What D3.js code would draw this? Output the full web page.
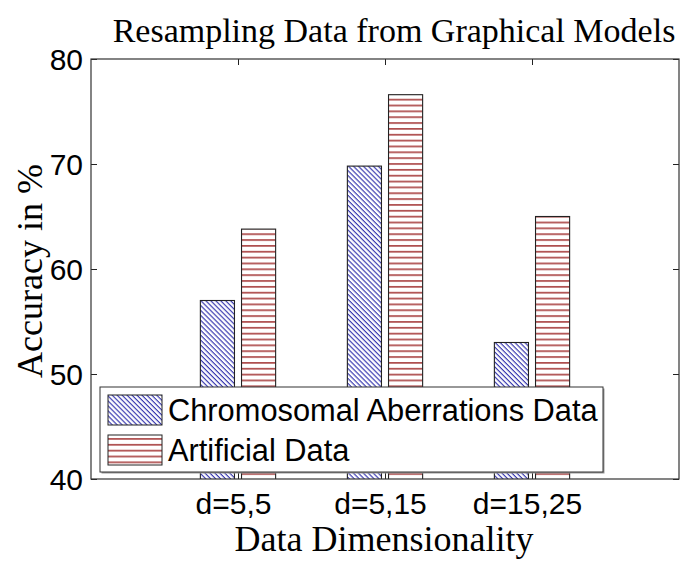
<!DOCTYPE html>
<html>
<head>
<meta charset="utf-8">
<script src="https://cdn.jsdelivr.net/npm/d3@7"></script>
<style>
  html, body { margin: 0; padding: 0; background: #fff; }
  svg { display: block; }
</style>
</head>
<body>
<svg id="chart" width="689" height="561"></svg>
<script>
// Data
const categories = ["d=5,5", "d=5,15", "d=15,25"];
const seriesNames = ["Chromosomal Aberrations Data", "Artificial Data"];
const chromosomal = [57.0, 69.8, 53.0];
const artificial = [63.8, 76.6, 65.0];
const yTicks = [40, 50, 60, 70, 80];

const svg = d3.select("#chart");
const plot = { left: 91, right: 679, top: 59, bottom: 479 };

// Category positions 1..n on a numeric axis running from 0 to n+1
const x = d3.scaleLinear().domain([0, categories.length + 1]).range([plot.left, plot.right]);
const y = d3.scaleLinear().domain([40, 80]).range([plot.bottom, plot.top]);

const barW = 0.232;      // bar width in category units
const offsets = [-0.14, 0.14];

// Hatch patterns
const defs = svg.append("defs");
const diag = defs.append("pattern")
  .attr("id", "hatch-diag").attr("patternUnits", "userSpaceOnUse")
  .attr("width", 3.5).attr("height", 3.5)
  .attr("patternTransform", "rotate(45)");
diag.append("rect").attr("width", 3.5).attr("height", 3.5).attr("fill", "#fff");
diag.append("line").attr("x1", 0).attr("x2", 3.5).attr("y1", 0.6).attr("y2", 0.6)
  .attr("stroke", "#2a2aaa").attr("stroke-width", 1.1);

const horiz = defs.append("pattern")
  .attr("id", "hatch-horiz").attr("patternUnits", "userSpaceOnUse")
  .attr("width", 8).attr("height", 5.85).attr("y", plot.bottom);
horiz.append("rect").attr("width", 8).attr("height", 5.85).attr("fill", "#fff");
horiz.append("line").attr("x1", 0).attr("x2", 8).attr("y1", 0.9).attr("y2", 0.9)
  .attr("stroke", "#8b0000").attr("stroke-width", 1.2);

const fills = ["url(#hatch-diag)", "url(#hatch-horiz)"];
const seriesData = [chromosomal, artificial];

svg.append("clipPath").attr("id", "plot-clip")
  .append("rect").attr("x", plot.left).attr("y", plot.top)
  .attr("width", plot.right - plot.left).attr("height", plot.bottom - plot.top);

// Bars
const barsG = svg.append("g").attr("clip-path", "url(#plot-clip)");
seriesData.forEach((vals, s) => {
  barsG.selectAll(null).data(vals).enter().append("rect")
    .attr("x", (d, i) => x(i + 1 + offsets[s] - barW / 2))
    .attr("width", x(barW) - x(0))
    .attr("y", d => y(d))
    .attr("height", d => y(40) - y(d) + 2)
    .attr("fill", fills[s])
    .attr("stroke", "#222")
    .attr("stroke-width", 1.1);
});

// Axes with inward ticks, mirrored on the opposite sides
const tickLen = 6;
const fontSans = "'Liberation Sans', Arial, sans-serif";
const fontSerif = "'Liberation Serif', 'Times New Roman', serif";

const yAxis = svg.append("g").attr("transform", `translate(${plot.left},0)`)
  .call(d3.axisLeft(y).tickValues(yTicks).tickSize(-tickLen).tickPadding(8).tickFormat(d3.format("d")));
const yAxisR = svg.append("g").attr("transform", `translate(${plot.right},0)`)
  .call(d3.axisRight(y).tickValues(yTicks).tickSize(-tickLen).tickFormat(""));
const xTickVals = categories.map((c, i) => i + 1);
const xAxis = svg.append("g").attr("transform", `translate(0,${plot.bottom})`)
  .call(d3.axisBottom(x).tickValues(xTickVals).tickSize(-tickLen).tickPadding(12)
    .tickFormat((d, i) => categories[i]));
const xAxisT = svg.append("g").attr("transform", `translate(0,${plot.top})`)
  .call(d3.axisTop(x).tickValues(xTickVals).tickSize(-tickLen).tickFormat(""));

[yAxis, yAxisR, xAxis, xAxisT].forEach(g => {
  g.select(".domain").remove();
  g.selectAll(".tick line").attr("stroke", "#222");
  g.selectAll("text").attr("font-family", fontSans).attr("font-size", 30).attr("fill", "#000");
});
yAxis.selectAll("text").attr("dy", "0.36em");
xAxis.selectAll("text").attr("dy", "0.78em").attr("dx", -5);

// Axes box
svg.append("rect")
  .attr("x", plot.left).attr("y", plot.top)
  .attr("width", plot.right - plot.left).attr("height", plot.bottom - plot.top)
  .attr("fill", "none").attr("stroke", "#333").attr("stroke-width", 1.2);

// Legend
const lg = { x: 100, y: 387, w: 503, h: 85 };
const legend = svg.append("g");
legend.append("rect").attr("x", lg.x + 1.5).attr("y", lg.y + 1.5)
  .attr("width", lg.w).attr("height", lg.h).attr("fill", "#999");
legend.append("rect").attr("x", lg.x).attr("y", lg.y)
  .attr("width", lg.w).attr("height", lg.h)
  .attr("fill", "#fff").attr("stroke", "#333").attr("stroke-width", 1);
seriesNames.forEach((name, s) => {
  const top = lg.y + 8 + s * 40;
  legend.append("rect").attr("x", lg.x + 8).attr("y", top)
    .attr("width", 54).attr("height", 30)
    .attr("fill", fills[s]).attr("stroke", "#222").attr("stroke-width", 1);
  legend.append("text").attr("x", lg.x + 68).attr("y", top + 15).attr("dy", "0.36em")
    .attr("font-family", fontSans).attr("font-size", 30.8).attr("fill", "#000")
    .text(name);
});

// Title and axis labels
svg.append("text").attr("x", 394).attr("y", 42).attr("text-anchor", "middle")
  .attr("font-family", fontSerif).attr("font-size", 34).attr("fill", "#000")
  .text("Resampling Data from Graphical Models");
svg.append("text").attr("x", 384).attr("y", 551).attr("text-anchor", "middle")
  .attr("font-family", fontSerif).attr("font-size", 36).attr("fill", "#000")
  .text("Data Dimensionality");
svg.append("text").attr("transform", `translate(42,271) rotate(-90)`).attr("text-anchor", "middle")
  .attr("font-family", fontSerif).attr("font-size", 36).attr("fill", "#000")
  .text("Accuracy in %");
</script>
</body>
</html>
